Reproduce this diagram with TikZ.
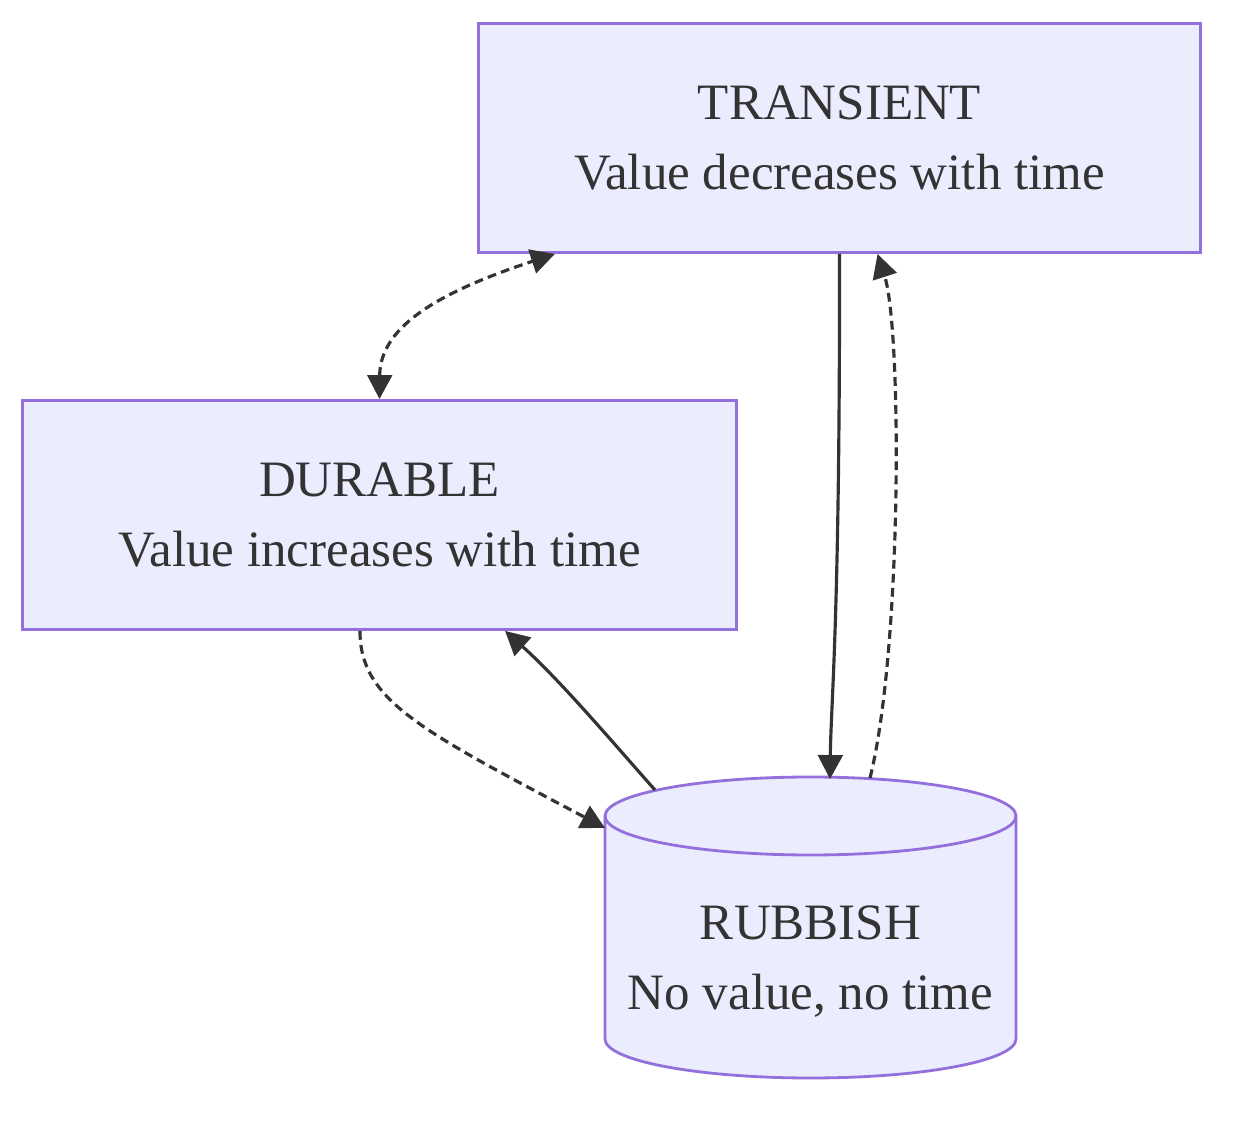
\documentclass[tikz,border=0pt]{standalone}
\usepackage{fontspec}
\setmainfont{Liberation Serif}
\usetikzlibrary{arrows.meta, positioning}
\definecolor{nodefill}{HTML}{ECECFF}
\definecolor{nodeline}{HTML}{9370DB}
\definecolor{ink}{HTML}{333333}

\begin{document}
\begin{tikzpicture}[
  x=0.01cm, y=-0.01cm,
  box/.style={rectangle, draw=nodeline, fill=nodefill, line width=0.8pt, align=center, text=ink, font=\fontsize{14.5}{19.9}\selectfont, minimum height=2.29cm},
  label/.style={align=center, text=ink, font=\fontsize{14.5}{19.9}\selectfont},
  tip/.style={-{Triangle[length=6.8pt, width=7pt]}},
  arr/.style={tip, line width=0.9pt, draw=ink},
  dasharr/.style={arr, dash pattern=on 2.5pt off 1.5pt}
]
\useasboundingbox (0,0) rectangle (1248,1125);
\node[box, minimum width=7.21cm] (trans) at (839.5,138) {TRANSIENT\\Value decreases with time};
\node[box, minimum width=7.13cm] (dur) at (379.5,515) {DURABLE\\Value increases with time};
% cylinder for the rubbish store
\filldraw[draw=nodeline, fill=nodefill, line width=0.8pt]
  (605,816) -- (605,1039) arc[start angle=180, end angle=0, x radius=205.5, y radius=39]
  -- (1016,816) arc[start angle=0, end angle=-180, x radius=205.5, y radius=39] -- cycle;
\draw[nodeline, line width=0.8pt] (605,816) arc[start angle=180, end angle=0, x radius=205.5, y radius=39];
\node[label] (rub) at (810.5,962) {RUBBISH\\No value, no time};
\coordinate (rub-in) at (830,779);
\coordinate (rub-out) at (870,778);
\coordinate (rub-left) at (605,828);
\coordinate (rub-up) at (655,790);
% connectors
\draw[dasharr, {Triangle[length=6.8pt, width=7pt]}-{Triangle[length=6.8pt, width=7pt]}] (dur.north) .. controls (380,330) and (430,295) .. ([xshift=-2.845cm]trans.south);
\draw[arr] (trans.south) .. controls (840,620) and (831,700) .. (rub-in);
\draw[dasharr] (rub-out) .. controls (902,650) and (902,330) .. ([xshift=0.38cm]trans.south);
\draw[dasharr] ([xshift=-0.195cm]dur.south) .. controls (360,700) and (420,730) .. (rub-left);
\draw[arr] (rub-up) .. controls (615,745) and (560,680) .. ([xshift=1.255cm]dur.south);
\end{tikzpicture}
\end{document}
